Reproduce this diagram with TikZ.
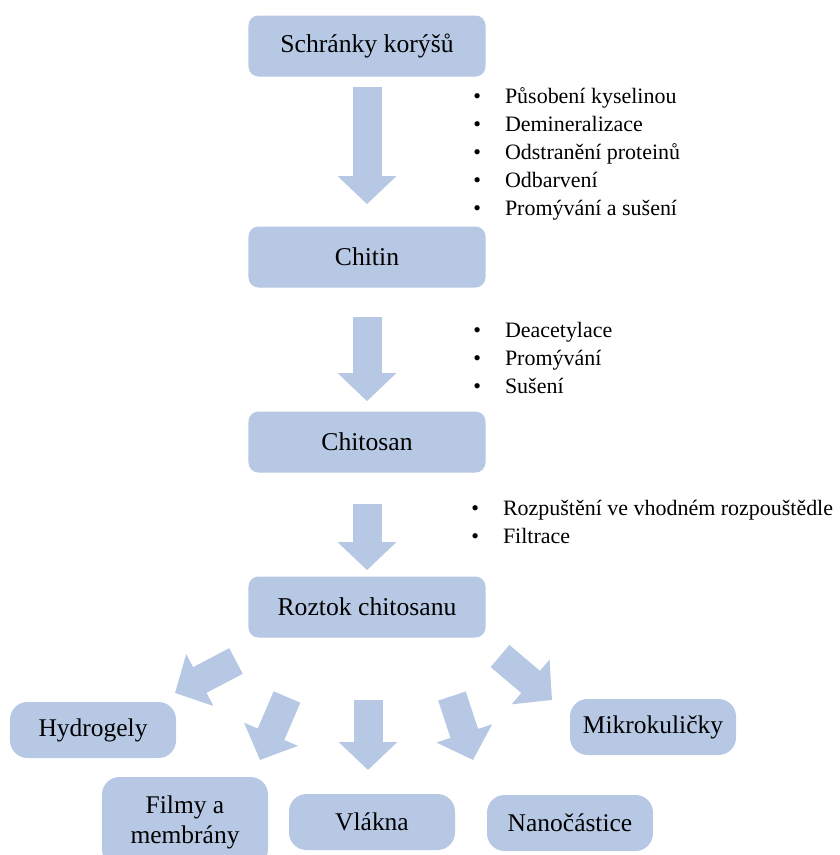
\documentclass[tikz,border=0pt]{standalone}
\usepackage{fontspec}
\setmainfont{Liberation Serif}
\usetikzlibrary{arrows.meta,positioning}
\definecolor{boxblue}{RGB}{182,200,228}
\tikzset{
  stage/.style={fill=boxblue, rounded corners=2mm, minimum width=47.4mm, minimum height=12.2mm, font=\fontsize{14.6}{17}\selectfont},
  product/.style={fill=boxblue, rounded corners=3.5mm, minimum width=33.2mm, minimum height=11.2mm, align=center, font=\fontsize{14.5}{17}\selectfont},
  steps/.style={anchor=west, align=left, inner sep=0pt, font=\fontsize{12.5}{15.9}\selectfont},
  blockarrow/.style={draw=boxblue, line width=5.8mm, -{Triangle[length=5.6mm,width=11.4mm]}}
}

\begin{document}
\begin{tikzpicture}[x=0.2mm, y=-0.2mm]
        \useasboundingbox (0,0) rectangle (839,855);
        %nodes
        \node[stage] (shells) at (367,46) {Schránky korýšů};
        \node[stage] (chitin) at (367,257) {Chitin};
        \node[stage] (chitosan) at (367,442) {Chitosan};
        \node[stage] (solution) at (367,607) {Roztok chitosanu};
        \node[steps] (steps1) at (473,154) {\textbullet\hspace{4.8mm}Působení kyselinou\\
          \textbullet\hspace{4.8mm}Demineralizace\\ \textbullet\hspace{4.8mm}Odstranění proteinů\\
          \textbullet\hspace{4.8mm}Odbarvení\\ \textbullet\hspace{4.8mm}Promývání a sušení};
        \node[steps] (steps2) at (473,358) {\textbullet\hspace{4.8mm}Deacetylace\\
          \textbullet\hspace{4.8mm}Promývání\\ \textbullet\hspace{4.8mm}Sušení};
        \node[steps] (steps3) at (471,522) {\textbullet\hspace{4.8mm}Rozpuštění ve vhodném rozpouštědle\\
          \textbullet\hspace{4.8mm}Filtrace};
        \node[product] (hydrogels) at (93,730) {Hydrogely};
        \node[product, minimum height=18mm] (films) at (185,822) {Filmy a\\membrány};
        \node[product] (fibres) at (372,822) {Vlákna};
        \node[product] (nanoparticles) at (570,823) {Nanočástice};
        \node[product] (microspheres) at (653,727) {Mikrokuličky};
        %arrow ends
        \coordinate (h0) at (236,661); \coordinate (h1) at (175,693);
        \coordinate (f0) at (287,697); \coordinate (f1) at (260,760);
        \coordinate (v0) at (368,700); \coordinate (v1) at (368,770);
        \coordinate (n0) at (452,696); \coordinate (n1) at (473,760);
        \coordinate (m0) at (500,656); \coordinate (m1) at (552,700);
        %edges
        \path [blockarrow, shorten <=2mm, shorten >=4.4mm] (shells) to (chitin);
        \path [blockarrow, shorten <=5.8mm, shorten >=2mm] (chitin) to (chitosan);
        \path [blockarrow, shorten <=6.2mm, shorten >=1.2mm] (chitosan) to (solution);
        \path [blockarrow] (h0) to (h1);
        \path [blockarrow] (f0) to (f1);
        \path [blockarrow] (v0) to (v1);
        \path [blockarrow] (n0) to (n1);
        \path [blockarrow] (m0) to (m1);
      \end{tikzpicture}
\end{document}
